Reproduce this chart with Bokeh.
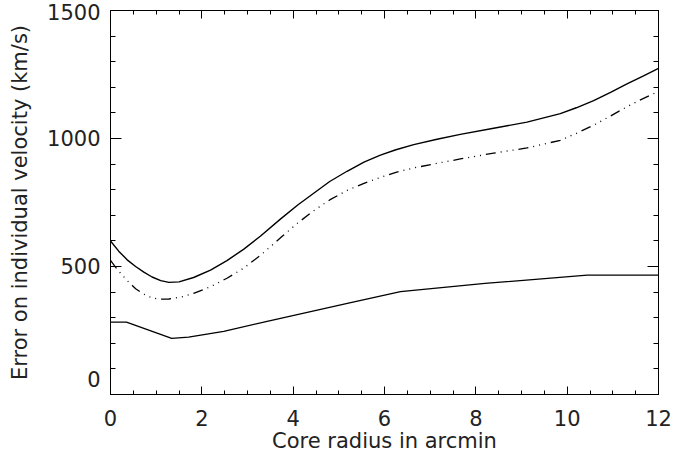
from bokeh.plotting import figure
from bokeh.models import LinearAxis, SingleIntervalTicker, Range1d, CustomJSTickFormatter
from bokeh.embed import file_html
from bokeh.resources import INLINE

# ---- data ----
x_upper = [0, 0.18, 0.365, 0.55, 0.73, 0.91, 1.1, 1.28, 1.5, 1.82, 2.19, 2.55, 2.92, 3.28,
           3.72, 4.1, 4.45, 4.8, 5.18, 5.55, 5.91, 6.25, 6.64, 7.15, 7.66, 8.39, 9.12,
           9.85, 10.2, 10.58, 10.95, 11.31, 11.65, 12.0]
v_upper = [600, 560, 526, 500, 478, 459, 445, 438, 440, 457, 486, 523, 568, 618,
           685, 740, 786, 832, 872, 908, 935, 956, 976, 997, 1016, 1040, 1064,
           1097, 1120, 1148, 1180, 1213, 1243, 1274]

x_mid = [0, 0.15, 0.365, 0.55, 0.73, 0.9, 1.06, 1.28, 1.55, 1.82, 2.19, 2.55, 2.92, 3.28,
         3.76, 4.1, 4.45, 4.8, 5.18, 5.55, 5.91, 6.25, 6.64, 7.15, 7.66, 8.39, 9.12,
         9.85, 10.2, 10.58, 10.95, 11.31, 11.65, 12.0]
v_mid = [524, 488, 445, 413, 392, 378, 372, 373, 381, 395, 421, 454, 494, 543,
         618, 670, 718, 760, 797, 825, 848, 868, 885, 903, 920, 943, 963,
         993, 1020, 1052, 1088, 1124, 1155, 1184]

x_low = [0, 0.35, 1.34, 1.71, 2.48, 3.43, 5.26, 6.35, 8.2, 10.44, 12.0]
v_low = [283, 283, 219, 224, 247, 286, 359, 402, 434, 466, 466]

x_ticks_step = 2
y_ticks_step = 500
x_title = "Core radius in arcmin"
y_title = "Error on individual velocity (km/s)"

FONT = "DejaVu Sans"
FS = "21px"
TXT = "#222222"

p = figure(width=673, height=459, output_backend="svg", toolbar_location=None,
           x_range=Range1d(0, 12), y_range=Range1d(0, 1500),
           min_border_left=110, min_border_right=15, min_border_top=10, min_border_bottom=65,
           x_axis_type=None, y_axis_type=None)
p.xgrid.visible = False
p.ygrid.visible = False
p.outline_line_color = "black"
p.outline_line_width = 1
p.background_fill_color = "white"
p.border_fill_color = "white"

def style_axis(ax, horizontal, labels):
    ax.axis_line_color = "black"
    ax.axis_line_width = 1
    ax.major_tick_line_color = "black"
    ax.minor_tick_line_color = "black"
    ax.major_tick_out = 0
    ax.minor_tick_out = 0
    if horizontal:
        ax.major_tick_in = 8
        ax.minor_tick_in = 4
    else:
        ax.major_tick_in = 11
        ax.minor_tick_in = 5
    if labels:
        ax.major_label_text_font = FONT
        ax.major_label_text_font_size = FS
        ax.major_label_text_color = TXT
        ax.axis_label_text_font = FONT
        ax.axis_label_text_font_size = FS
        ax.axis_label_text_font_style = "normal"
        ax.axis_label_text_color = TXT
    else:
        ax.formatter = CustomJSTickFormatter(code="return ''")
        ax.major_label_text_font_size = "1px"
        ax.major_label_standoff = 0

xt = lambda: SingleIntervalTicker(interval=x_ticks_step, num_minor_ticks=4)
yt = lambda: SingleIntervalTicker(interval=y_ticks_step, num_minor_ticks=5)

xb = LinearAxis(ticker=xt(), axis_label=x_title)
style_axis(xb, True, True)
xb.major_label_standoff = 15
xb.axis_label_standoff = 0
p.add_layout(xb, "below")

yl = LinearAxis(ticker=yt(), axis_label=y_title)
style_axis(yl, False, True)
yl.major_label_standoff = 10
yl.axis_label_standoff = 12
yl.major_label_overrides = {0: "0\n"}
p.add_layout(yl, "left")

xa = LinearAxis(ticker=xt())
style_axis(xa, True, False)
p.add_layout(xa, "above")

yr = LinearAxis(ticker=yt())
style_axis(yr, False, False)
p.add_layout(yr, "right")

p.line(x_upper, v_upper, line_color="black", line_width=1.4)
p.line(x_mid, v_mid, line_color="black", line_width=1.3, line_dash="10 5 1 5 1 5 1 5")
p.line(x_low, v_low, line_color="black", line_width=1.3)

open("out.html", "w").write(file_html(p, INLINE))
